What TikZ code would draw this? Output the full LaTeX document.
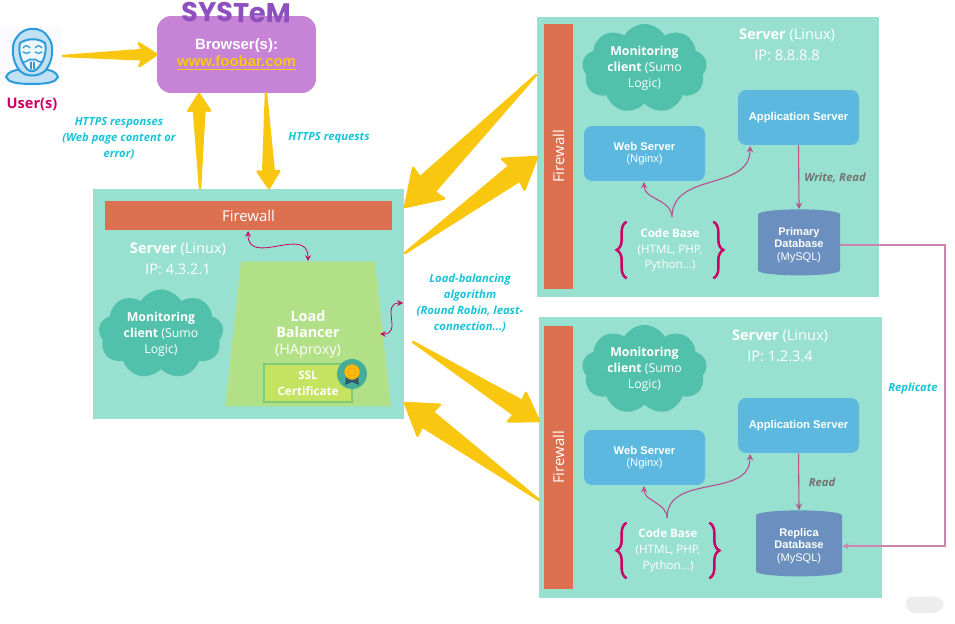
\documentclass[tikz,border=0pt]{standalone}
\usepackage{fontspec}
\setmainfont{Open Sans}
\newfontfamily\arialfont{Liberation Sans}
\newfontfamily\scribblefont{Poppins}
\usetikzlibrary{arrows,calc,shapes.geometric,shapes.symbols,decorations.pathreplacing}

\definecolor{srvteal}{HTML}{98E0D0}
\definecolor{fwred}{HTML}{DD7050}
\definecolor{cloudteal}{HTML}{52C1AB}
\definecolor{boxblue}{HTML}{5DB8DF}
\definecolor{dbblue}{HTML}{6B8FBF}
\definecolor{arrowgold}{HTML}{F9C710}
\definecolor{pinkred}{HTML}{CC0066}
\definecolor{wiremauve}{HTML}{B8508F}
\definecolor{labelcyan}{HTML}{19C4D6}
\definecolor{iconblue}{HTML}{2D9BDB}
\definecolor{browserpurple}{HTML}{C783D5}
\definecolor{lbgreen}{HTML}{B2E086}
\definecolor{scribble}{HTML}{8E4FBF}
\definecolor{ribbon}{HTML}{2F5A70}

\tikzset{
	srvbox/.style={fill=srvteal, inner sep=0},
	fwbox/.style={fill=fwred, inner sep=0, text=white, font=\fontsize{8.5}{10}\selectfont},
	cloudbox/.style={cloud, cloud puffs=9, cloud puff arc=120, aspect=1.45, fill=cloudteal, inner sep=0, minimum width=2.5cm, minimum height=1.72cm, text=white, align=center, font=\fontsize{7}{9.1}\selectfont},
	srvtext/.style={text=white, align=center, font=\fontsize{8.3}{11.9}\selectfont},
	bluebox/.style={fill=boxblue, rounded corners=0.16cm, minimum width=2.42cm, minimum height=1.1cm, inner sep=0, text=white, align=center, font=\arialfont\fontsize{6.4}{7.2}\selectfont},
	dbbox/.style={cylinder, shape border rotate=90, aspect=0.2, fill=dbblue, inner sep=0, minimum height=1.32cm, text=white, align=center, font=\arialfont\fontsize{6.3}{7.1}\selectfont},
	codebox/.style={inner sep=0, text=white, align=center, font=\fontsize{6.6}{9.1}\selectfont},
	codebrace/.style={draw=pinkred, line width=0.05cm, decorate, decoration={brace, amplitude=0.2cm}},
	link/.style={draw=wiremauve, line width=0.022cm, >=stealth},
	smalllink/.style={draw=pinkred, line width=0.016cm, >=stealth},
	replink/.style={draw=wiremauve!70!white, line width=0.022cm, >=stealth},
	fatarrow/.style={fill=arrowgold, draw=arrowgold, line width=0.05cm, line join=round},
	bluelabel/.style={text=labelcyan, align=center, font=\bfseries\itshape\fontsize{6.4}{9.1}\selectfont},
	greylabel/.style={text=black!55, font=\bfseries\itshape\fontsize{6.4}{8}\selectfont},
	iconline/.style={draw=iconblue, line width=0.04cm, line cap=round, line join=round}
}

\newcommand{\fatarrow}[4]{
	\path[fatarrow] (#1) -- ($(#2)!#4!18:(#1)$) -- ($(#2)!#3!33:(#1)$) -- (#2) -- ($(#2)!#3!-33:(#1)$) -- ($(#2)!#4!-18:(#1)$) -- cycle;
}

\begin{document}
\begin{tikzpicture}[x=0.02cm, y=-0.02cm]
	\useasboundingbox (0,0) rectangle (955,624);

	\fill[blue!2] (0,27) rectangle (62,86);
	\path[iconline, fill=iconblue!30] (6,77) .. controls (8,71) and (16,70) .. (22,69) -- (42,69) .. controls (50,70) and (56,71) .. (58,77) .. controls (56,82) and (48,84) .. (32,84) .. controls (16,84) and (8,82) .. (6,77) -- cycle;
	\path[iconline, fill=iconblue!30] (20,71) .. controls (12,62) and (10,45) .. (17,37) .. controls (24,26) and (42,26) .. (48,37) .. controls (55,45) and (53,62) .. (45,71) .. controls (38,77) and (26,77) .. (20,71) -- cycle;
	\path[iconline, fill=iconblue!8] (20,43) .. controls (28,38) and (38,38) .. (45,43) .. controls (47,52) and (44,62) .. (37,69) .. controls (34,72) and (30,72) .. (27,69) .. controls (21,62) and (18,52) .. (20,43) -- cycle;
	\path[iconline, line width=0.025cm] (23,48) .. controls (25,45) and (28,45) .. (30,48);
	\path[iconline, line width=0.025cm] (35,48) .. controls (37,45) and (40,45) .. (42,48);
	\path[iconline, line width=0.025cm] (23,52) .. controls (25,54) and (28,54) .. (30,52);
	\path[iconline, line width=0.025cm] (35,52) .. controls (37,54) and (40,54) .. (42,52);
	\path[iconline, line width=0.03cm] (23,62) .. controls (27,63) and (30,57) .. (32.5,60) .. controls (35,57) and (38,63) .. (42,62);
	\path[iconline, line width=0.025cm] (31,62) -- (31,69);
	\path[iconline, line width=0.025cm] (34,62) -- (34,69);
	\node (user) [text=pinkred, font=\bfseries\fontsize{8.3}{10}\selectfont] at (32,104) {User(s)};

	\node (browser) [fill=browserpurple, minimum width=3.18cm, minimum height=1.54cm, rounded corners=0.28cm, inner sep=0, text=white, align=center, font=\arialfont\bfseries\fontsize{8.5}{9.6}\selectfont] at (236.5,54.5) {Browser(s):\\\textcolor{arrowgold}{\underline{www.foobar.com}}};
	\node (system) [text=scribble, font=\scribblefont\bfseries\fontsize{15.5}{16}\selectfont, rotate=-1] at (236,12.5) {SYSTeM};

	\coordinate (userout) at (63,56);
	\coordinate (lbtop) at (200,188);
	\coordinate (lbdown) at (269,188);
	\coordinate (browserup) at (199,94);
	\coordinate (browserdown) at (266,93);
	\fatarrow{userout}{browser.west}{0.42cm}{0.3cm}
	\fatarrow{lbtop}{browserup}{0.4cm}{0.34cm}
	\fatarrow{browserdown}{lbdown}{0.4cm}{0.34cm}

	\node (resplabel) [bluelabel] at (119,138) {HTTPS responses\\(Web page content or\\error)};
	\node (reqlabel) [bluelabel] at (329,138) {HTTPS requests};

	\node (lbsrv) [srvbox, minimum width=6.22cm, minimum height=4.6cm] at (248.5,304) {};
	\node (lbfw) [fwbox, minimum width=5.74cm, minimum height=0.58cm] at (248.5,215.5) {Firewall};
	\node (lbsrvtext) [srvtext] at (178,258.5) {\textbf{Server} (Linux)\\IP: 4.3.2.1};
	\node (lbcloud) [cloudbox] at (161,334) {\textbf{Monitoring}\\\textbf{client} (Sumo\\Logic)};
	\node (lb) [trapezium, trapezium angle=80.6, trapezium stretches=true, fill=lbgreen, minimum width=3.32cm, minimum height=2.9cm, inner sep=0, text=white, align=center, font=\fontsize{8.2}{9.3}\selectfont] at (308,334) {\textbf{Load}\\\textbf{Balancer}\\(HAproxy)};
	\node (ssl) [draw={rgb,255:red,126;green,204;blue,120}, line width=0.025cm, fill={rgb,255:red,197;green,227;blue,96}, minimum width=1.76cm, minimum height=0.76cm, inner sep=0, text=white, align=center, font=\bfseries\fontsize{6.6}{9}\selectfont] at (308,383) {SSL\\Certificate};
	\node (badge) [circle, fill={rgb,255:red,69;green,174;blue,154}, minimum size=0.6cm, inner sep=0] at (352,374) {};
	\fill[ribbon] (346,376) -- (345,385) -- (352,382) -- (359,385) -- (358,376) -- cycle;
	\fill[arrowgold!85!orange, draw=orange!80!yellow, line width=0.01cm] (352,372) circle (7.5);
	\draw[orange!85!yellow, line width=0.01cm] (352,372) circle (4);

	\coordinate (lbfwport) at (248,231);
	\coordinate (lbtopport) at (308,261);
	\coordinate (lbsideport) at (380,334);
	\coordinate (lbedgeport) at (403,303);
	\path (lbfwport) edge [smalllink, <->, out=-90, in=90, looseness=1.4] (lbtopport);
	\path (lbsideport) edge [smalllink, <->, out=0, in=180, looseness=1.5] (lbedgeport);

	\node (algolabel) [bluelabel] at (470,303) {Load-balancing\\algorithm\\(Round Robin, least-\\connection...)};

	\node (srva) [srvbox, minimum width=6.84cm, minimum height=5.6cm] at (708,157) {};
	\node (fwa) [fwbox, minimum width=0.58cm, minimum height=5.3cm] at (558.5,156.5) {\rotatebox{90}{Firewall}};
	\node (clouda) [cloudbox] at (644.5,68.5) {\textbf{Monitoring}\\\textbf{client} (Sumo\\Logic)};
	\node (srvatext) [srvtext] at (787,44.5) {\textbf{Server} (Linux)\\IP: 8.8.8.8};
	\node (appa) [bluebox] at (798.5,117.5) {\textbf{Application Server}};
	\node (weba) [bluebox] at (644.5,153.5) {\textbf{Web Server}\\(Nginx)};
	\node (codea) [codebox, minimum width=1.72cm, minimum height=1.12cm] at (670,250) {\textbf{Code Base}\\(HTML, PHP,\\Python...)};
	\node (dba) [dbbox, minimum width=1.64cm] at (799,245) {\textbf{Primary}\\\textbf{Database}\\(MySQL)};
	\draw[codebrace] (codea.south west) -- (codea.north west);
	\draw[codebrace] (codea.north east) -- (codea.south east);
	\coordinate (codeaport) at (672,217);
	\coordinate (webaport) at (644,182);
	\coordinate (appaport) at (750,146);
	\path (codeaport) edge [link, ->, out=90, in=-90, looseness=1] (webaport);
	\path (codeaport) edge [link, ->, out=90, in=-90, looseness=1.1] (appaport);
	\path (appa.south) edge [link, ->] (dba.north);
	\node (writelabel) [greylabel] at (835,178) {Write, Read};

	\node (srvb) [srvbox, minimum width=6.86cm, minimum height=5.62cm] at (710.5,457.5) {};
	\node (fwb) [fwbox, minimum width=0.58cm, minimum height=5.26cm] at (558.5,457.5) {\rotatebox{90}{Firewall}};
	\node (cloudb) [cloudbox] at (644.5,369.5) {\textbf{Monitoring}\\\textbf{client} (Sumo\\Logic)};
	\node (srvbtext) [srvtext] at (780,345.5) {\textbf{Server} (Linux)\\IP: 1.2.3.4};
	\node (appb) [bluebox] at (798.5,425.5) {\textbf{Application Server}};
	\node (webb) [bluebox] at (644.5,457.5) {\textbf{Web Server}\\(Nginx)};
	\node (codeb) [codebox, minimum width=1.64cm, minimum height=1.1cm] at (668,550.5) {\textbf{Code Base}\\(HTML, PHP,\\Python...)};
	\node (dbb) [dbbox, minimum width=1.72cm] at (799,546) {\textbf{Replica}\\\textbf{Database}\\(MySQL)};
	\draw[codebrace] (codeb.south west) -- (codeb.north west);
	\draw[codebrace] (codeb.north east) -- (codeb.south east);
	\coordinate (codebport) at (667,518);
	\coordinate (webbport) at (644,486);
	\coordinate (appbport) at (750,454);
	\path (codebport) edge [link, ->, out=90, in=-90, looseness=1] (webbport);
	\path (codebport) edge [link, ->, out=90, in=-90, looseness=1.1] (appbport);
	\path (appb.south) edge [link, ->] (dbb.north);
	\node (readlabel) [greylabel] at (822,482) {Read};

	\coordinate (replbend) at (945,400);
	\draw[replink, ->] (dba.east) -| (replbend) |- (dbb.east);
	\node (repllabel) [bluelabel] at (913,389) {Replicate};

	\coordinate (atail) at (536,75);
	\coordinate (atip) at (405,207);
	\coordinate (btail) at (405,253);
	\coordinate (btip) at (537,157);
	\coordinate (ctail) at (413,342);
	\coordinate (ctip) at (539,421);
	\coordinate (dtail) at (539,500);
	\coordinate (dtip) at (405,403);
	\fatarrow{atail}{atip}{0.8cm}{0.66cm}
	\fatarrow{btail}{btip}{0.7cm}{0.58cm}
	\fatarrow{ctail}{ctip}{0.62cm}{0.52cm}
	\fatarrow{dtail}{dtip}{0.7cm}{0.58cm}

	\fill[black!7, rounded corners=0.12cm] (905,597) -- (938,596) -- (946,604) -- (938,613) -- (908,613) -- cycle;
\end{tikzpicture}
\end{document}
